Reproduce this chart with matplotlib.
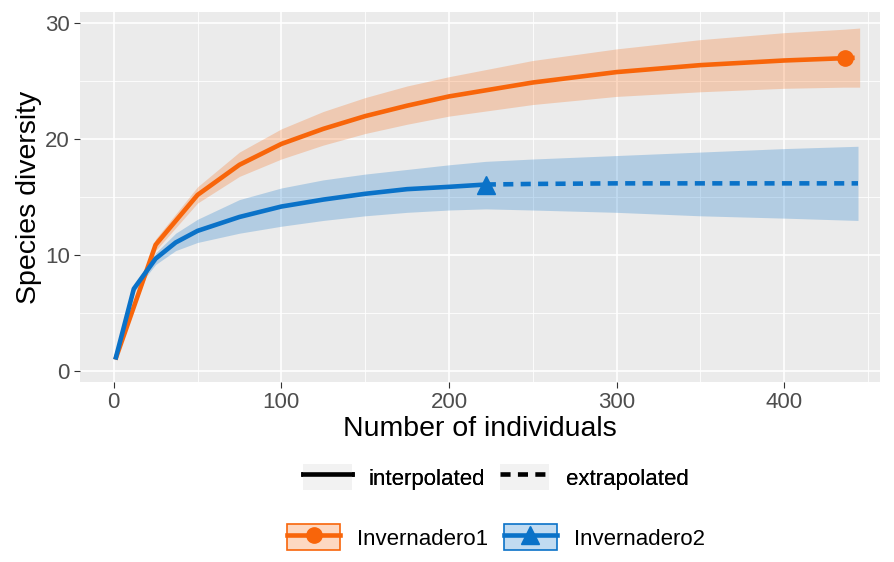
import matplotlib.pyplot as plt
from matplotlib.lines import Line2D
from matplotlib.patches import Patch

plt.rcParams['font.family'] = ['Liberation Sans', 'DejaVu Sans']

# Invernadero1 (orange)
inv1_x = [1, 25, 50, 75, 100, 125, 150, 175, 200, 250, 300, 350, 400, 436]
inv1_y = [1, 10.9, 15.2, 17.8, 19.6, 20.9, 22.0, 22.9, 23.7, 24.9, 25.8, 26.4, 26.8, 27.0]
inv1_lo = [1, 10.4, 14.5, 16.8, 18.3, 19.5, 20.5, 21.3, 22.0, 23.0, 23.7, 24.1, 24.4, 24.5]
inv1_hi = [1, 11.4, 15.9, 18.9, 20.9, 22.4, 23.6, 24.6, 25.4, 26.8, 27.8, 28.6, 29.2, 29.5]
inv1_ext_x = [436, 445]
inv1_ext_y = [27.0, 27.05]
inv1_ext_lo = [24.5, 24.5]
inv1_ext_hi = [29.5, 29.6]

# Invernadero2 (blue)
inv2_x = [1, 12, 25, 37, 50, 75, 100, 125, 150, 175, 200, 222]
inv2_y = [1, 7.1, 9.7, 11.1, 12.1, 13.3, 14.2, 14.8, 15.3, 15.7, 15.9, 16.1]
inv2_lo = [1, 6.8, 9.2, 10.4, 11.1, 11.9, 12.5, 13.0, 13.4, 13.7, 13.9, 14.0]
inv2_hi = [1, 7.4, 10.2, 11.9, 13.1, 14.8, 15.8, 16.5, 17.0, 17.4, 17.8, 18.1]
inv2_ext_x = [222, 250, 300, 350, 400, 444]
inv2_ext_y = [16.1, 16.15, 16.2, 16.2, 16.2, 16.2]
inv2_ext_lo = [14.0, 13.9, 13.7, 13.4, 13.2, 13.0]
inv2_ext_hi = [18.1, 18.3, 18.6, 18.9, 19.2, 19.4]

orange = '#F8650A'
blue = '#0A72C8'
dash = (0, (2.2, 1.6))

fig = plt.figure(figsize=(8.95, 5.62), dpi=100)
ax = fig.add_axes([0.089, 0.320, 0.894, 0.659])
ax.set_facecolor('#EBEBEB')

for c, xs, lo, hi in [(orange, inv1_x + inv1_ext_x[1:], inv1_lo + inv1_ext_lo[1:], inv1_hi + inv1_ext_hi[1:]),
                      (blue, inv2_x + inv2_ext_x[1:], inv2_lo + inv2_ext_lo[1:], inv2_hi + inv2_ext_hi[1:])]:
    ax.fill_between(xs, lo, hi, color=c, alpha=0.25, lw=0, zorder=2)

ax.plot(inv1_x, inv1_y, color=orange, lw=3.3, solid_capstyle='butt', zorder=3)
ax.plot(inv1_ext_x, inv1_ext_y, color=orange, lw=3.3, ls=dash, zorder=3)
ax.plot(inv2_x, inv2_y, color=blue, lw=3.3, solid_capstyle='butt', zorder=3)
ax.plot(inv2_ext_x, inv2_ext_y, color=blue, lw=3.3, ls=dash, zorder=3)
ax.plot(inv1_x[-1], inv1_y[-1], 'o', color=orange, ms=11, zorder=4)
ax.plot(inv2_x[-1], inv2_y[-1], '^', color=blue, ms=13, zorder=4)

ax.set_xlim(-20.3, 457)
ax.set_ylim(-0.95, 31)
ax.set_xticks([0, 100, 200, 300, 400])
ax.set_yticks([0, 10, 20, 30])
ax.set_xticks([50, 150, 250, 350, 450], minor=True)
ax.set_yticks([5, 15, 25], minor=True)
ax.grid(which='major', color='white', lw=1.2, zorder=0)
ax.grid(which='minor', color='white', lw=0.6, zorder=0)
ax.set_axisbelow(True)
for s in ax.spines.values():
    s.set_visible(False)
ax.tick_params(which='major', length=4, color='#333333', labelcolor='#4D4D4D', labelsize=16, pad=3)
ax.tick_params(which='minor', length=0)
ax.set_xlabel('Number of individuals', fontsize=20.5, labelpad=2)
ax.set_ylabel('Species diversity', fontsize=20.5, labelpad=2)

# legends
grey_key = Patch(facecolor='#F2F2F2', edgecolor='none')
h_int = (grey_key, Line2D([], [], color='black', lw=3.3))
h_ext = (grey_key, Line2D([], [], color='black', lw=3.3, ls=dash))
leg1 = fig.legend([h_int, h_ext], ['interpolated', 'extrapolated'], loc='center',
                  bbox_to_anchor=(0.554, 0.151), ncol=2, frameon=False, fontsize=16,
                  handlelength=2.2, handleheight=1.4, columnspacing=0.7, handletextpad=0.75)
h1 = (Patch(facecolor=orange, alpha=0.25, edgecolor='none'), Patch(facecolor='none', edgecolor=orange, lw=1.2),
      Line2D([], [], color=orange, lw=3.3, marker='o', ms=11))
h2 = (Patch(facecolor=blue, alpha=0.25, edgecolor='none'), Patch(facecolor='none', edgecolor=blue, lw=1.2),
      Line2D([], [], color=blue, lw=3.3, marker='^', ms=13))
leg2 = fig.legend([h1, h2], ['Invernadero1', 'Invernadero2'], loc='center',
                  bbox_to_anchor=(0.554, 0.044), ncol=2, frameon=False, fontsize=16,
                  handlelength=2.4, handleheight=1.4, columnspacing=0.7, handletextpad=0.75)
fig.add_artist(leg1)

fig.savefig('out.png', dpi=100, facecolor='white')
